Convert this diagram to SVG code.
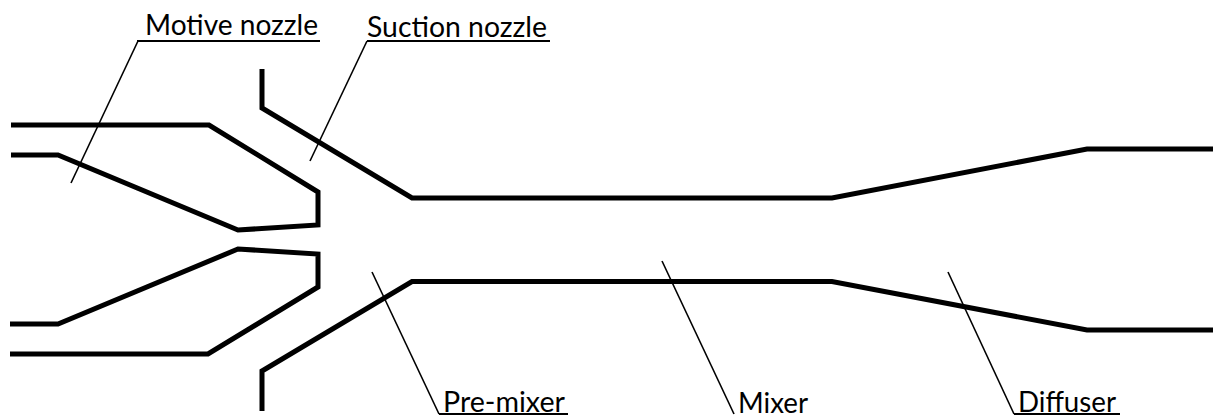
<svg xmlns="http://www.w3.org/2000/svg" width="1213" height="415" viewBox="0 0 1213 415">
<style>
.wall{fill:none;stroke:#000;stroke-width:5;stroke-linejoin:miter}
.lead{fill:none;stroke:#000;stroke-width:1.6}
.under{fill:none;stroke:#000;stroke-width:2}
text{font-family:"Lato","Open Sans","Liberation Sans",sans-serif;font-size:29px;fill:#000}
</style>
<rect width="1213" height="415" fill="#fff"/>
<g id="connectors">
<path class="lead" d="M71 183L138 41"/>
<path class="lead" d="M310 161L367 41"/>
<path class="lead" d="M372 272L439 414"/>
<path class="lead" d="M662 261L734 414"/>
<path class="lead" d="M948 272L1014 414"/>
</g>
<g id="motive-nozzle-wall">
<path class="wall" d="M11 155H58L238 230L318 225V192L209 125H11"/>
<path class="wall" d="M10 354H208L318 287V254L238 249L58 324H10"/>
</g>
<g id="body-wall">
<path class="wall" d="M262 69V108L412 198H832L1087 149H1213"/>
<path class="wall" d="M262 411V371L412 281.500H832L1087 330H1213"/>
</g>
<g id="motive-nozzle"><path class="under" d="M137 41H320"/><text x="145" y="35" textLength="173" lengthAdjust="spacingAndGlyphs">Motive nozzle</text></g>
<g id="suction-nozzle"><path class="under" d="M367 41H550"/><text x="367" y="37" textLength="180" lengthAdjust="spacingAndGlyphs">Suction nozzle</text></g>
<g id="pre-mixer"><path class="under" d="M439 414H568"/><text x="443" y="412" textLength="122" lengthAdjust="spacingAndGlyphs">Pre-mixer</text></g>
<g id="mixer"><text x="738" y="413" textLength="70" lengthAdjust="spacingAndGlyphs">Mixer</text></g>
<g id="diffuser"><path class="under" d="M1014 414H1120"/><text x="1018" y="412" textLength="98" lengthAdjust="spacingAndGlyphs">Diffuser</text></g>
</svg>
